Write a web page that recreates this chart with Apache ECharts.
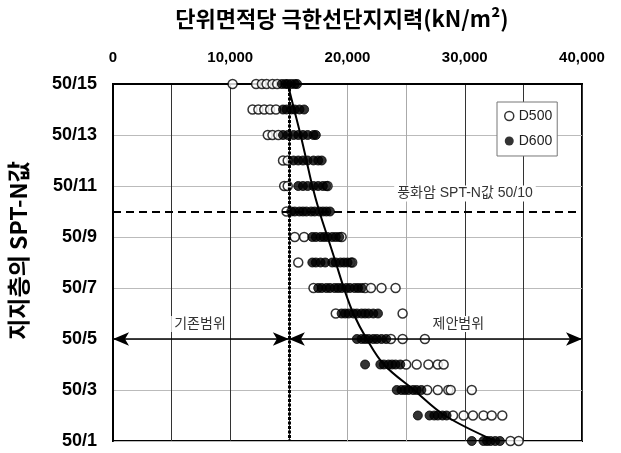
<!DOCTYPE html>
<html><head><meta charset="utf-8">
<script src="https://cdn.jsdelivr.net/npm/echarts@6/dist/echarts.min.js"></script>
<style>html,body{margin:0;padding:0;background:#fff}#c{width:621px;height:453px}</style>
</head><body><div id="c"></div>
<script>
// Y categories (SPT-N value of bearing layer), bottom to top
const categories = ['50/1','50/2','50/3','50/4','50/5','50/6','50/7','50/8','50/9','50/10','50/11','50/12','50/13','50/14','50/15'];
// X axis ticks
const xTickValues = [0, 10000, 20000, 30000, 40000];
const xTickLabels = ['0', '10,000', '20,000', '30,000', '40,000'];

// D500 (open circles) - one list per category row, same order as categories
const d500 = [
  [33900, 34600],
  [29000, 29900, 30700, 31600, 32300, 33200],
  [26800, 27700, 28600, 28800, 30600],
  [25000, 25900, 26900, 27700, 28200],
  [23700, 24700, 26600],
  [19000, 24700],
  [17100, 21500, 22000, 22900, 24100],
  [15800, 20400],
  [15500, 16300, 19500],
  [14800],
  [14600, 14900, 18300],
  [14500, 14900],
  [13200, 13600, 14100],
  [11900, 12400, 12900, 13400, 13900],
  [10200, 12200, 12700, 13100, 13600, 14000]
];
// D600 (filled circles)
const d600 = [
  [30600, 31600, 31900, 32200, 32600, 33000],
  [26000, 27000, 27400, 27700, 28100, 28450],
  [24200, 24600, 24900, 25200, 25600, 25900, 26300],
  [21500, 22800, 23100, 23500, 23800, 24100, 24500],
  [20800, 21200, 21500, 21800, 22200, 22500, 22900, 23300],
  [19500, 19800, 20100, 20500, 20800, 21200, 21500, 21800, 22200, 22600],
  [17500, 17800, 18200, 18500, 18900, 19200, 19500, 19900, 20200, 20600, 20900, 21200],
  [17000, 17300, 17700, 18100, 18700, 19000, 19400, 19700, 20000, 20300],
  [17000, 17300, 17700, 18000, 18300, 18700, 19000, 19300],
  [15200, 15500, 15900, 16200, 16500, 16900, 17200, 17600, 17900, 18200, 18500],
  [15800, 16200, 16600, 17100, 17500, 17900, 18200],
  [15400, 15800, 16200, 16600, 17100, 17500, 17800],
  [14500, 14900, 15400, 15800, 16200, 16600, 17100, 17300],
  [14500, 14800, 15200, 15500, 15900, 16300],
  [14400, 14700, 14900, 15200, 15500, 15700]
];
// fitted curve, one value per category
const fitCurve = [32600, 28300, 25660, 23100, 21640, 20500, 19690, 19000, 18300, 17600, 17000, 16500, 16000, 15450, 14900];

const existingLimit = 15000;
const weatheredRow = '50/10';
const rangeRow = '50/5';
const titleText = '단위면적당 극한선단지지력(kN/m²)';
const yName = '지지층의 SPT-N값';
const annotations = [
  { name: '기존범위', x: 7420, row: '50/5', dy: -15 },
  { name: '제안범위', x: 29450, row: '50/5', dy: -15 },
  { name: '풍화암 SPT-N값 50/10', x: 30020, row: '50/10', dy: -18 }
];

const toPairs = rows => rows.flatMap((r, i) => r.map(v => [v, categories[i]]));
const latin = "'Liberation Sans','Noto Sans CJK KR',sans-serif";
const gridColors = ['#333','#333','#333','#333','#aaa','#aaa','#333','#333','#333'];

const chart = echarts.init(document.getElementById('c'));
chart.setOption({
  animation: false,
  backgroundColor: '#fff',
  graphic: [{
    type: 'text', x: 342, y: 19,
    style: { text: titleText, align: 'center', verticalAlign: 'middle',
      font: "bold 22px 'Noto Sans CJK KR','Liberation Sans',sans-serif", fill: '#000' }
  }],
  grid: { left: 113, right: 39, top: 84, bottom: 12, show: true, borderColor: '#000', borderWidth: 2,
    containLabel: false, outerBoundsMode: 'none' },
  legend: {
    data: [
      { name: 'D500', icon: 'circle', itemStyle: { color: '#fff', borderColor: '#000', borderWidth: 1.5 } },
      { name: 'D600', icon: 'circle', itemStyle: { color: '#000', borderWidth: 0 } }
    ],
    orient: 'vertical', left: 497, top: 102,
    padding: [7, 5, 8, 7], itemGap: 11, itemWidth: 9, itemHeight: 9,
    backgroundColor: '#fff', borderColor: '#777', borderWidth: 1,
    textStyle: { fontFamily: latin, fontSize: 14, color: '#222' }
  },
  xAxis: {
    type: 'value', position: 'top', min: 0, max: 40000, interval: 5000,
    axisLine: { show: true, lineStyle: { color: '#000', width: 2 } },
    axisTick: { show: false },
    axisLabel: {
      margin: 19, color: '#000', fontFamily: latin, fontWeight: 'bold', fontSize: 15,
      formatter: v => { const i = xTickValues.indexOf(v); return i >= 0 ? xTickLabels[i] : ''; }
    },
    splitLine: { show: true, showMinLine: true, lineStyle: { color: gridColors, width: 1 } }
  },
  yAxis: {
    type: 'category', data: categories, boundaryGap: false,
    name: yName, nameLocation: 'middle', nameGap: 83, nameRotate: 90,
    nameTextStyle: { fontFamily: "'Noto Sans CJK KR','Liberation Sans',sans-serif", fontWeight: 'bold', fontSize: 23, color: '#000',
      padding: [0, 0, 0, 24] },
    axisLine: { show: true, lineStyle: { color: '#000', width: 2 } },
    axisTick: { show: false },
    axisLabel: { interval: 1, margin: 16, color: '#000', fontFamily: latin, fontWeight: 'bold', fontSize: 18 },
    splitLine: { show: true, interval: 1, lineStyle: { color: '#bbb', width: 1 } }
  },
  series: [
    {
      name: 'D500', type: 'scatter', data: toPairs(d500), symbol: 'circle', symbolSize: 9,
      itemStyle: { color: '#fff', borderColor: '#000', borderWidth: 1.5 }, z: 3
    },
    {
      name: 'D600', type: 'scatter', data: toPairs(d600), symbol: 'circle', symbolSize: 9,
      itemStyle: { color: '#000', borderColor: '#000', borderWidth: 1 }, z: 4
    },
    {
      name: 'fit', type: 'line', data: fitCurve.map((v, i) => [v, categories[i]]),
      smooth: 0.35, showSymbol: false, symbol: 'none',
      lineStyle: { color: '#000', width: 2 }, z: 5, silent: true,
      markLine: {
        silent: true, z: 6,
        label: { show: false },
        data: [
          [{ coord: [0, weatheredRow], symbol: 'none' }, { coord: [40000, weatheredRow], symbol: 'none',
            lineStyle: { color: '#000', width: 2, type: [8, 5] } }],
          [{ coord: [existingLimit, categories[categories.length - 1]], symbol: 'none' }, { coord: [existingLimit, categories[0]], symbol: 'none',
            lineStyle: { color: '#000', width: 3, type: [3, 1.5] } }],
          [{ coord: [0, rangeRow], symbol: 'arrow', symbolSize: [10, 16] }, { coord: [existingLimit, rangeRow], symbol: 'arrow', symbolSize: [10, 16],
            lineStyle: { color: '#000', width: 1.5, type: 'solid' } }],
          [{ coord: [existingLimit, rangeRow], symbol: 'arrow', symbolSize: [10, 16] }, { coord: [40000, rangeRow], symbol: 'arrow', symbolSize: [10, 16],
            lineStyle: { color: '#000', width: 1.5, type: 'solid' } }]
        ]
      },
      markPoint: {
        silent: true, symbol: 'circle', symbolSize: 1, itemStyle: { color: 'rgba(0,0,0,0)' },
        label: {
          show: true, position: 'inside', formatter: p => p.name, color: '#333',
          fontFamily: latin, fontSize: 14, backgroundColor: '#fff', padding: [1, 3]
        },
        data: annotations.map(a => ({ name: a.name, coord: [a.x, a.row], label: { offset: [0, a.dy] } }))
      }
    }
  ]
});
</script></body></html>
